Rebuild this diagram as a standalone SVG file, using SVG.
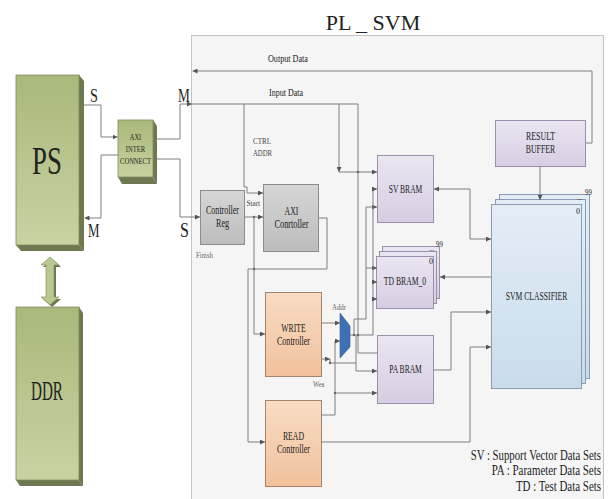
<svg xmlns="http://www.w3.org/2000/svg" width="608" height="499" viewBox="0 0 608 499">
<defs>
<linearGradient id="gGreen" x1="0" y1="0" x2="0" y2="1"><stop offset="0" stop-color="#a9b87b"/><stop offset="1" stop-color="#c7d3a1"/></linearGradient>
<linearGradient id="gGray" x1="0" y1="0" x2="0" y2="1"><stop offset="0" stop-color="#d6d6d6"/><stop offset="1" stop-color="#bcbcbc"/></linearGradient>
<linearGradient id="gOrange" x1="0" y1="0" x2="0" y2="1"><stop offset="0" stop-color="#f8dcc4"/><stop offset="1" stop-color="#f2c19b"/></linearGradient>
<linearGradient id="gLav" x1="0" y1="0" x2="0" y2="1"><stop offset="0" stop-color="#ebe6f1"/><stop offset="1" stop-color="#d7cde3"/></linearGradient>
<linearGradient id="gBlue" x1="0" y1="0" x2="0" y2="1"><stop offset="0" stop-color="#e3edf6"/><stop offset="1" stop-color="#c9dcec"/></linearGradient>
<marker id="arr" markerWidth="5" markerHeight="5" refX="5" refY="2.5" orient="auto" markerUnits="userSpaceOnUse"><path d="M0,0 L5,2.5 L0,5 z" fill="#555"/></marker>
</defs>
<style>
.t{font-family:"Liberation Serif","Times New Roman",serif;fill:#222}
.lbl{font-size:12px;text-anchor:middle}
.sm{font-size:9px;fill:#444}
.xs{font-size:8px;fill:#666}
.ln{fill:none;stroke:#7f7f7f;stroke-width:1}
.dk{fill:#6d7851}
.gray{fill:url(#gGray);stroke:#8c8c8c;stroke-width:1}
.org{fill:url(#gOrange);stroke:#a7836a;stroke-width:1}
.lav{fill:url(#gLav);stroke:#9b90ab;stroke-width:1}
.blu{fill:url(#gBlue);stroke:#8b9bb2;stroke-width:1}
.dot{fill:#666}
</style>
<rect width="608" height="499" fill="#ffffff"/>
<g id="panel">
<rect x="191.5" y="35.5" width="412" height="470" fill="#f5f5f5" stroke="#c4c4c4"/>
<text class="t" x="373" y="30" font-size="22" text-anchor="middle">PL _ SVM</text>
</g>
<g id="ps">
<polygon class="dk" points="79,75 84,81 84,251 79,245"/>
<polygon class="dk" points="16,245 79,245 84,251 21,251"/>
<rect x="16" y="75" width="63" height="170" fill="url(#gGreen)" stroke="#7d8a5c" stroke-width="0.8"/>
<text class="t" font-size="40" text-anchor="middle" transform="translate(47,174) scale(0.67,1)">PS</text>
</g>
<g id="ddr">
<polygon class="dk" points="79,307 83,313 83,486 79,480"/>
<polygon class="dk" points="16,480 79,480 83,486 20,486"/>
<rect x="16" y="307" width="63" height="173" fill="url(#gGreen)" stroke="#7d8a5c" stroke-width="0.8"/>
<text class="t" font-size="27" text-anchor="middle" transform="translate(47,400) scale(0.56,1)">DDR</text>
</g>
<g id="ps-ddr">
<polygon class="dk" points="52,259 61,267 56,267 56,299 61,299 52,307 43,299 48,299 48,267 43,267"/>
<polygon points="50,257 59,265 54,265 54,297 59,297 50,305 41,297 46,297 46,265 41,265" fill="#b9c790" stroke="#7d8a5c" stroke-width="0.6"/>
</g>
<g id="axi-inter">
<polygon class="dk" points="153,120 157,126 157,184 153,177"/>
<polygon class="dk" points="118,177 153,177 157,184 122,184"/>
<rect x="118" y="120" width="35" height="57" fill="url(#gGreen)" stroke="#7d8a5c" stroke-width="0.8"/>
<text class="t" font-size="8" text-anchor="middle" transform="translate(135.5,140) scale(0.8,1)">AXI</text>
<text class="t" font-size="8" text-anchor="middle" transform="translate(135.5,152) scale(0.82,1)">INTER</text>
<text class="t" font-size="8" text-anchor="middle" transform="translate(135.5,164) scale(0.82,1)">CONNECT</text>
</g>
<g id="ports">
<text class="t" font-size="19" transform="translate(90,102) scale(0.75,1)">S</text>
<text class="t" font-size="19" transform="translate(88,237) scale(0.68,1)">M</text>
<text class="t" font-size="19" transform="translate(178,102) scale(0.7,1)">M</text>
<text class="t" font-size="20" transform="translate(180,237) scale(0.8,1)">S</text>
</g>
<g id="controller-reg">
<rect class="gray" x="200.5" y="190.5" width="44" height="54"/>
<text class="t lbl" transform="translate(222.5,214) scale(0.67,1)">Controller</text>
<text class="t lbl" transform="translate(222.5,227) scale(0.67,1)">Reg</text>
</g>
<g id="axi-controller">
<rect class="gray" x="263.5" y="184.5" width="55" height="67"/>
<text class="t lbl" transform="translate(291.5,215) scale(0.65,1)">AXI</text>
<text class="t lbl" transform="translate(291.5,228) scale(0.69,1)">Conrtoller</text>
</g>
<g id="write-controller">
<rect class="org" x="265.5" y="292.5" width="56" height="84"/>
<text class="t lbl" transform="translate(293.5,332) scale(0.64,1)">WRITE</text>
<text class="t lbl" transform="translate(293.5,345) scale(0.67,1)">Controller</text>
</g>
<g id="read-controller">
<rect class="org" x="265.5" y="400.5" width="56" height="86"/>
<text class="t lbl" transform="translate(293.5,440) scale(0.65,1)">READ</text>
<text class="t lbl" transform="translate(293.5,453) scale(0.67,1)">Controller</text>
</g>
<g id="mux">
<polygon points="340,313 350,326 350,347 340,358" fill="#3e70b6" stroke="#2f5a94" stroke-width="0.6"/>
</g>
<g id="sv-bram">
<rect class="lav" x="377.5" y="155.5" width="56" height="67"/>
<text class="t lbl" transform="translate(405.5,193) scale(0.63,1)">SV BRAM</text>
</g>
<g id="td-bram">
<rect class="lav" x="382.5" y="246.5" width="57" height="52"/>
<rect class="lav" x="379.5" y="251.5" width="57" height="52"/>
<rect class="lav" x="376.5" y="256.5" width="57" height="52"/>
<text class="t" font-size="8" fill="#555" transform="translate(436,247) scale(0.85,1)">99</text>
<text class="t" font-size="7" fill="#555" x="429" y="251">...</text>
<text class="t" font-size="8" fill="#555" x="429" y="264">0</text>
<text class="t lbl" transform="translate(405,285) scale(0.64,1)">TD BRAM_0</text>
</g>
<g id="pa-bram">
<rect class="lav" x="377.5" y="335.5" width="56" height="68"/>
<text class="t lbl" transform="translate(405.5,373) scale(0.63,1)">PA BRAM</text>
</g>
<g id="result-buffer">
<rect class="lav" x="495.5" y="120.5" width="90" height="46"/>
<text class="t lbl" transform="translate(540.5,140) scale(0.66,1)">RESULT</text>
<text class="t lbl" transform="translate(540.5,153) scale(0.65,1)">BUFFER</text>
</g>
<g id="svm-classifier">
<rect class="blu" x="499.5" y="194.5" width="90" height="184"/>
<rect class="blu" x="495.5" y="199.5" width="90" height="184"/>
<rect class="blu" x="491.5" y="204.5" width="90" height="184"/>
<text class="t" font-size="8" fill="#555" transform="translate(585,195) scale(0.85,1)">99</text>
<text class="t" font-size="7" fill="#555" x="577" y="200">...</text>
<text class="t" font-size="8" fill="#555" x="576" y="214">0</text>
<text class="t lbl" transform="translate(536.5,300) scale(0.64,1)">SVM CLASSIFIER</text>
</g>
<g id="connectors">
<path class="ln" d="M84,105 H101 V137 H117.5" marker-end="url(#arr)"/>
<path class="ln" d="M118,155 H101 V218 H84.5" marker-end="url(#arr)"/>
<path class="ln" d="M157,139 H180 V104 H192" marker-end="url(#arr)"/>
<path class="ln" d="M157,159 H180 V217 H200" marker-end="url(#arr)"/>
<path class="ln" d="M592,143 H586"/>
<path class="ln" d="M592,143 V71 H192.5" marker-end="url(#arr)"/>
<path class="ln" d="M192,104 H358 V353 H377"/>
<path class="ln" d="M244,104 V187 H247 V193 H263" marker-end="url(#arr)"/>
<path class="ln" d="M339,104 V172" marker-end="url(#arr)"/>
<path class="ln" d="M339,172 H377" marker-end="url(#arr)"/>
<path class="ln" d="M245,217 H263" marker-end="url(#arr)"/>
<path class="ln" d="M254,217 V334 H265" marker-end="url(#arr)"/>
<path class="ln" d="M319,218 H327 V269 H248 V442 H265" marker-end="url(#arr)"/>
<path class="ln" d="M322,323 H340" marker-end="url(#arr)"/>
<path class="ln" d="M322,415 H335 V341 H340" marker-end="url(#arr)"/>
<path class="ln" d="M335,393 H377" marker-end="url(#arr)"/>
<path class="ln" d="M322,359 H330" marker-end="url(#arr)"/>
<path class="ln" d="M330,359 V363 H356"/>
<path class="ln" d="M350,335 H354 V319 H366 V207 H377" marker-end="url(#arr)"/>
<path class="ln" d="M366,268 H377" marker-end="url(#arr)"/>
<path class="ln" d="M354,335 H373 V189 H377" marker-end="url(#arr)"/>
<path class="ln" d="M373,282 H377" marker-end="url(#arr)"/>
<path class="ln" d="M373,299 H377" marker-end="url(#arr)"/>
<path class="ln" d="M356,335 V371 H377" marker-end="url(#arr)"/>
<path class="ln" d="M322,442 H470 V347 H491" marker-end="url(#arr)"/>
<path class="ln" d="M434,370 H451 V312 H491" marker-end="url(#arr)"/>
<path class="ln" d="M491,277 H440" marker-end="url(#arr)"/>
<path class="ln" d="M470,189 H434" marker-end="url(#arr)"/>
<path class="ln" d="M470,189 V239 H491" marker-end="url(#arr)"/>
<path class="ln" d="M540,167 V200" marker-end="url(#arr)"/>
<circle class="dot" cx="254" cy="269" r="1.2"/>
<circle class="dot" cx="358" cy="172" r="1.2"/>
<circle class="dot" cx="335" cy="393" r="1.2"/>
<circle class="dot" cx="354" cy="335" r="1.2"/>
<circle class="dot" cx="358" cy="335" r="1.2"/>
<circle class="dot" cx="330" cy="363" r="1.2"/>
<circle class="dot" cx="254" cy="217" r="1.2"/>
</g>
<g id="labels">
<text class="t" font-size="11" transform="translate(268,62) scale(0.74,1)">Output Data</text>
<text class="t" font-size="11" transform="translate(269,96) scale(0.73,1)">Input Data</text>
<text class="t sm" transform="translate(253,144) scale(0.78,1)">CTRL</text>
<text class="t sm" transform="translate(253,156) scale(0.75,1)">ADDR</text>
<text class="t sm" transform="translate(246.5,206) scale(0.8,1)">Start</text>
<text class="t xs" transform="translate(196,258) scale(0.85,1)">Finish</text>
<text class="t xs" transform="translate(332,310) scale(0.85,1)">Addr</text>
<text class="t xs" transform="translate(313,387) scale(0.82,1)">Wea</text>
<text class="t" font-size="14" text-anchor="end" transform="translate(601,460) scale(0.77,1)">SV : Support Vector Data Sets</text>
<text class="t" font-size="14" text-anchor="end" transform="translate(601,475) scale(0.78,1)">PA : Parameter Data Sets</text>
<text class="t" font-size="14" text-anchor="end" transform="translate(601,491) scale(0.78,1)">TD : Test Data Sets</text>
</g>
</svg>
